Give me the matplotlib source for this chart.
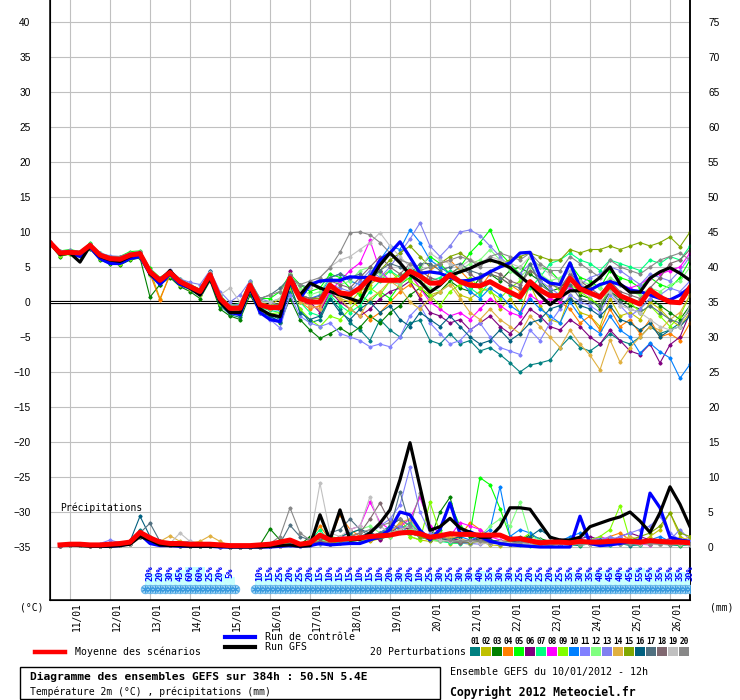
import numpy as np
import matplotlib
matplotlib.use('Agg')
import matplotlib.pyplot as plt

W, H = 740, 700

# x axis: 6-hourly steps from 10/01 12h (step 0) to 26/01 12h (step 64)
day_labels = ['11/01', '12/01', '13/01', '14/01', '15/01', '16/01', '17/01', '18/01',
              '19/01', '20/01', '21/01', '22/01', '23/01', '24/01', '25/01', '26/01']
day_steps = [2, 6, 10, 14, 18, 22, 26, 30, 34, 38, 42, 46, 50, 54, 58, 62]

# temperature 2m (deg C), steps 0..64
mean_t = [8.5, 7.0, 7.1, 7.0, 8.1, 6.7, 6.2, 6.1, 6.7, 6.9,
          4.3, 3.1, 4.2, 2.9, 2.2, 1.5, 3.9, 0.5, -0.9, -0.9,
          2.4, -0.4, -0.8, -0.8, 3.4, 0.5, 0.0, 0.0, 2.4, 1.3,
          1.1, 2.0, 3.5, 3.1, 3.1, 3.1, 4.4, 3.7, 2.7, 2.7,
          3.9, 2.9, 2.4, 2.3, 2.9, 2.1, 1.4, 0.7, 2.9, 1.7,
          0.9, 0.9, 3.4, 1.9, 1.3, 0.7, 2.4, 0.9, 0.3, -0.3,
          1.7, 0.7, 0.0, -0.1, 2.1]
gfs_t = [8.5, 6.8, 7.0, 5.7, 8.0, 6.5, 6.0, 5.8, 6.5, 7.0,
         4.0, 3.0, 4.5, 2.8, 2.0, 1.0, 3.5, 0.0, -1.5, -1.5,
         2.0, -1.0, -1.8, -2.1, 3.0, 1.0, 2.7, 2.0, 1.5, 1.0,
         0.5, 0.0, 3.0, 5.3, 7.0, 5.6, 3.9, 2.9, 1.4, 2.4,
         3.8, 4.3, 4.8, 5.5, 6.0, 5.6, 4.9, 3.7, 2.5, 1.0,
         -0.4, 0.7, 1.6, 1.6, 2.4, 3.5, 5.0, 2.6, 1.4, 1.4,
         3.4, 4.3, 4.9, 4.1, 3.1]
ctrl_t = [8.5, 7.0, 7.0, 6.5, 7.8, 6.2, 5.5, 5.5, 6.2, 6.5,
          4.0, 2.5, 4.0, 2.5, 2.0, 1.0, 3.5, 0.0, -1.5, -1.8,
          2.0, -1.5, -2.5, -2.8, 3.0, 0.5, 2.5, 3.0, 3.1, 3.1,
          3.6, 3.5, 3.5, 6.0, 7.0, 8.6, 6.4, 4.1, 4.3, 4.1,
          3.5, 3.0, 3.1, 3.5, 4.3, 5.0, 5.6, 7.0, 7.1, 3.6,
          2.7, 2.5, 5.6, 2.1, 1.7, 2.5, 2.9, 2.5, 1.7, 1.5,
          1.0, 0.5, 0.3, 1.0, 2.1]

t01 = [8.3, 6.8, 7.0, 6.8, 7.9, 6.3, 5.8, 5.5, 6.2, 6.5, 3.8, 2.5, 3.9, 2.4, 1.8, 1.0, 3.6, -0.5, -1.8, -2.2,
       2.0, -1.0, -1.8, -2.5, 1.5, -1.0, -3.0, -2.5, 0.5, -1.0, -3.0, -4.0, -5.5, -2.5, -4.0, -5.0, -3.0, -2.6, -5.5, -6.0,
       -4.5, -6.0, -5.5, -7.0, -6.5, -7.5, -8.7, -10.0, -9.0, -8.7, -8.3, -6.5, -5.0, -6.5, -7.0, -6.0, -4.5, -5.5, -6.0, -5.0,
       -3.5, -4.5, -4.0, -3.0, -1.0]
t02 = [8.5, 7.2, 7.3, 7.2, 8.3, 6.9, 6.0, 6.2, 6.9, 7.1, 4.5, 0.5, 3.8, 2.8, 2.0, 1.2, 3.5, 0.0, -1.0, -0.5,
       2.8, 0.0, -0.5, 0.5, 3.0, 1.5, -0.5, -1.0, 1.0, 0.5, 0.0, 1.5, 2.5, 3.5, 4.5, 3.0, 4.0, 2.0, 1.0, 1.5,
       3.0, 1.0, 0.5, 1.5, 2.0, -1.0, 0.5, -1.5, 2.5, -0.5, -2.5, -3.0, 1.0, -1.5, -2.0, -3.5, 0.5, -2.0, -1.5, -2.5,
       0.0, -1.0, -2.5, -3.5, -1.5]
t03 = [8.2, 6.5, 6.9, 6.6, 7.6, 6.0, 5.5, 5.3, 6.0, 6.3, 0.7, 2.5, 3.5, 2.2, 1.5, 0.5, 3.0, -1.0, -2.0, -2.5,
       1.0, -1.5, -2.0, -3.0, 0.5, -2.5, -4.0, -5.2, -4.5, -3.7, -4.6, -3.6, -2.0, -3.0, -1.5, -0.5, 1.0, 2.0, 0.5, 1.5,
       3.0, 2.0, 1.5, 3.5, 4.0, 3.0, 4.5, 5.0, 4.0, 3.0, 1.5, 2.0, 3.5, 1.0, 0.5, -1.0, 1.5, 0.5, -0.5, -1.0,
       0.5, -0.5, -1.5, -2.5, -0.5]
t04 = [8.4, 7.0, 7.2, 7.0, 8.0, 6.5, 6.0, 6.0, 6.5, 6.8, 4.0, 0.3, 4.0, 2.5, 2.0, 1.2, 3.5, 0.0, -1.0, -1.2,
       2.0, -0.5, -1.0, -1.0, 2.5, 0.0, -1.0, -0.5, 2.0, 1.5, 0.5, -1.0, -2.5, -1.5, 0.0, 1.5, 2.5, 1.0, 4.5, 5.5,
       6.0, 4.5, 3.0, 2.0, 4.0, 3.5, 2.5, 1.5, 3.0, 2.0, 0.5, 0.0, -1.0, -3.0, -2.0, -4.0, -1.0, -3.5, -2.5, -4.5,
       -2.5, -5.0, -4.5, -5.5, -3.0]
t05 = [8.6, 7.3, 7.5, 7.2, 8.4, 7.0, 6.5, 6.5, 7.2, 7.3, 4.8, 3.5, 4.5, 3.3, 2.5, 1.8, 4.2, 1.0, -0.5, -0.2,
       3.0, 0.5, 0.5, 1.5, 4.0, 2.5, 1.5, 2.0, 4.0, 3.5, 2.0, 1.0, 0.0, 1.5, 0.5, 2.5, 3.5, 5.0, 6.5, 5.5,
       4.0, 5.0, 7.0, 8.5, 10.3, 7.0, 5.5, 4.0, 6.5, 5.0, 4.5, 3.0, 5.5, 3.5, 3.0, 2.0, 4.5, 3.5, 3.0, 2.0,
       3.5, 2.5, 2.0, 3.5, 6.0]
t06 = [8.5, 7.0, 7.1, 7.0, 8.2, 6.8, 6.3, 6.1, 6.7, 6.9, 4.4, 3.0, 4.3, 2.8, 2.0, 1.3, 4.0, 0.3, -1.2, -1.0,
       2.5, -0.5, -1.0, -1.0, 4.5, 1.0, 0.0, -1.5, 1.5, 0.0, -1.0, -2.0, -1.0, 0.5, 1.5, 2.0, 3.0, 0.5, -1.5, -2.0,
       -3.0, -2.5, -4.0, -3.0, -2.0, -3.5, -4.5, -3.0, -1.0, -2.0, -3.5, -4.0, -2.5, -3.5, -5.0, -6.0, -4.0, -5.5, -7.0, -7.5,
       -6.0, -8.7, -6.1, -5.0, -1.5]
t07 = [8.4, 7.1, 7.2, 7.1, 8.0, 6.6, 6.0, 5.9, 6.5, 6.7, 4.1, 2.8, 4.0, 2.7, 2.0, 1.2, 3.7, 0.2, -1.2, -1.2,
       2.2, -0.8, -1.2, -1.5, 3.0, 0.0, -1.5, -2.0, 1.0, -0.5, -1.5, -0.5, 1.5, 3.0, 4.5, 3.5, 5.0, 4.0, 3.0, 3.5,
       4.5, 3.0, 2.0, 1.0, 3.0, 2.0, 1.0, 0.5, 2.0, 3.5, 5.5, 6.0, 7.0, 6.0, 5.5, 4.5, 6.0, 5.5, 5.0, 4.5,
       6.0, 5.5, 6.5, 6.0, 8.0]
t08 = [8.6, 7.2, 7.3, 7.1, 8.2, 6.9, 6.4, 6.3, 6.9, 7.1, 4.5, 3.3, 4.4, 3.0, 2.3, 1.6, 4.0, 0.6, -0.8, -0.8,
       2.5, -0.3, -0.5, -0.5, 3.0, 0.5, -0.5, -1.0, 1.5, 3.0, 4.5, 5.6, 8.8, 4.5, 3.0, 2.5, 4.0, 2.0, 0.0, -1.0,
       -2.0, -1.5, -2.5, -1.0, 0.5, -0.5, -1.5, -2.0, 1.0, 0.0, 0.5, 0.0, 2.0, 1.5, 1.0, 0.5, 3.0, 2.5, 2.0, 2.5,
       3.5, 4.0, 4.5, 5.0, 7.0]
t09 = [8.3, 6.6, 6.8, 6.7, 7.7, 6.2, 5.6, 5.5, 6.2, 6.5, 3.9, 2.7, 3.7, 2.5, 1.8, 1.0, 3.4, -0.3, -1.5, -1.7,
       1.8, -1.2, -1.7, -1.5, 2.0, -1.0, -2.5, -3.5, -2.0, -2.5, -1.0, 0.5, 2.0, 1.0, 3.0, 4.0, 3.0, 2.0, 1.0, -0.5,
       1.5, 2.5, 3.5, 2.0, 1.5, 0.5, 2.0, 3.0, 4.5, 3.5, 3.0, 1.5, 2.5, 1.5, 0.5, -0.5, 2.0, 1.0, 0.0, -1.5,
       -0.5, -2.0, -3.5, -2.0, 1.0]
t10 = [8.5, 7.0, 7.2, 6.9, 8.0, 6.6, 6.1, 6.0, 6.6, 6.8, 4.2, 3.0, 4.1, 2.8, 2.1, 1.4, 3.8, 0.4, -1.0, -1.0,
       2.3, -0.5, -1.0, -1.2, 3.5, 1.0, 0.5, 1.0, 3.5, 4.0, 3.0, 2.5, 4.0, 6.0, 8.0, 7.5, 10.3, 8.5, 6.0, 5.0,
       4.0, 3.0, 1.5, 0.5, 2.0, 1.0, -0.5, -1.5, 0.5, -1.0, -2.0, -3.0, 0.0, -2.0, -3.5, -4.5, -2.0, -4.0, -5.0, -7.3,
       -5.9, -7.1, -8.0, -10.9, -8.9]
t11 = [8.6, 7.1, 7.3, 7.0, 8.1, 6.8, 6.3, 6.2, 6.8, 7.0, 4.4, 3.2, 4.4, 3.1, 2.4, 1.7, 4.1, 0.7, -0.5, -0.3,
       2.6, -1.5, -2.5, -3.7, 1.0, -2.0, -3.0, -3.5, -3.0, -4.5, -5.0, -5.5, -6.4, -6.0, -6.4, -5.0, -2.0, -0.5, -3.0, -4.5,
       -6.0, -5.5, -4.0, -3.0, -5.0, -6.5, -7.0, -7.5, -4.0, -5.5, -3.0, -1.0, 1.0, 0.0, -0.5, -1.5, 1.0, -0.5, -2.0, -1.0,
       0.5, 1.0, 2.0, 1.5, 3.0]
t12 = [8.5, 7.0, 7.0, 7.0, 8.0, 6.7, 6.2, 6.1, 6.8, 7.0, 4.3, 3.1, 4.2, 2.9, 2.3, 1.6, 4.0, 0.8, -0.5, -0.5,
       2.8, 0.0, 0.0, 0.5, 4.0, 2.0, 1.0, 1.5, 3.5, 2.5, 3.0, 4.5, 5.0, 4.0, 3.0, 2.5, 4.0, 3.0, 2.0, 1.5,
       2.5, 4.5, 5.5, 6.0, 7.5, 6.0, 4.5, 3.5, 5.0, 4.0, 3.0, 3.5, 4.5, 3.0, 2.5, 2.0, 3.5, 2.5, 1.5, 1.0,
       2.0, 1.5, 2.5, 3.0, 5.0]
t13 = [8.4, 7.3, 7.4, 7.2, 8.3, 7.0, 6.6, 6.5, 7.0, 7.2, 4.6, 3.4, 4.6, 3.3, 2.8, 2.5, 4.5, 1.5, 0.0, 1.0,
       3.0, 0.5, 0.0, -0.5, 3.5, 1.0, 0.5, 0.0, 2.5, 2.0, 1.5, 3.0, 4.5, 3.5, 5.0, 7.0, 9.0, 11.3, 8.0, 6.5,
       8.0, 10.0, 10.3, 9.5, 8.0, 6.5, 5.0, 4.0, 5.5, 3.0, 2.0, 1.0, 4.0, 2.5, 3.5, 4.0, 5.0, 4.5, 3.5, 2.5,
       4.0, 3.5, 3.0, 4.5, 6.5]
t14 = [8.4, 6.9, 7.0, 6.9, 7.9, 6.5, 6.0, 5.9, 6.5, 6.8, 4.0, 2.8, 4.0, 2.6, 1.9, 1.2, 3.6, 0.2, -1.2, -1.0,
       2.2, -0.6, -1.0, -1.0, 3.0, 0.0, -0.5, -1.0, 2.0, 0.5, -1.0, -2.0, 0.5, 1.5, 3.0, 2.0, 0.0, -1.0, 0.5, 1.5,
       2.5, 0.5, -1.5, -2.5, -1.0, -2.5, -3.5, -4.5, -2.0, -3.5, -5.0, -6.5, -4.0, -6.0, -7.6, -9.7, -5.4, -8.6, -6.5, -5.0,
       -3.5, -4.0, -2.5, -1.5, 1.0]
t15 = [8.5, 7.1, 7.2, 7.0, 8.1, 6.7, 6.2, 6.2, 6.8, 7.0, 4.4, 3.2, 4.3, 3.0, 2.3, 1.6, 4.0, 0.6, -0.7, -0.7,
       2.5, -0.2, -0.5, -0.2, 3.5, 1.0, 0.5, 0.5, 2.5, 1.5, 1.0, 2.0, 3.5, 4.5, 6.0, 7.0, 8.0, 6.5, 5.0, 5.5,
       6.5, 7.0, 6.0, 5.5, 6.0, 5.5, 6.0, 6.5, 7.0, 6.5, 6.0, 6.0, 7.5, 7.0, 7.5, 7.5, 8.0, 7.5, 8.0, 8.5,
       8.0, 8.5, 9.3, 7.9, 10.0]
t16 = [8.4, 6.9, 7.0, 6.8, 8.0, 6.5, 6.0, 5.8, 6.5, 6.7, 4.1, 2.9, 4.0, 2.7, 2.0, 1.3, 4.4, 0.0, -1.5, -1.8,
       2.2, -1.0, -2.0, -2.8, 2.5, -1.5, -2.5, -2.0, 0.5, -1.5, -2.5, -1.0, 0.0, -1.5, -0.5, -2.5, -3.5, -1.5, -2.5, -3.5,
       -2.0, -3.5, -5.0, -6.0, -5.5, -4.0, -5.5, -4.5, -3.0, -2.5, -1.0, -0.5, 0.5, -0.5, -1.0, -2.0, -0.5, -2.5, -3.0, -4.0,
       -3.0, -5.0, -4.0, -3.5, -2.0]
t17 = [8.5, 7.0, 7.1, 7.0, 8.1, 6.7, 6.2, 6.1, 6.7, 6.9, 4.3, 3.1, 4.2, 2.9, 2.2, 1.5, 4.0, 0.5, -0.9, -0.9,
       2.4, 0.5, 1.0, 2.0, 3.5, 2.5, 2.0, 3.0, 3.5, 4.0, 3.5, 4.0, 3.0, 4.5, 5.5, 5.0, 4.0, 5.5, 5.5, 4.5,
       5.0, 5.5, 4.5, 4.0, 4.0, 3.5, 2.5, 2.0, 5.5, 2.5, 1.5, 0.5, 2.5, 0.5, 0.0, -0.5, 1.5, 0.0, -1.0, -1.5,
       -0.5, -1.5, -2.5, -3.0, -1.0]
t18 = [8.6, 7.1, 7.2, 7.1, 8.1, 6.7, 6.3, 6.2, 6.7, 6.9, 4.3, 3.0, 4.3, 2.9, 2.1, 1.4, 3.9, 0.4, -1.0, -1.0,
       2.4, -0.3, -0.6, -0.3, 3.8, 1.0, 0.5, 0.8, 3.0, 2.5, 2.0, 3.5, 5.0, 6.5, 5.0, 4.0, 5.5, 4.5, 3.5, 3.0,
       4.0, 5.0, 4.0, 3.0, 4.5, 4.0, 3.0, 2.5, 4.5, 3.5, 2.5, 2.0, 4.0, 3.0, 2.0, 1.0, 3.0, 1.5, 1.0, 0.5,
       2.0, 3.5, 5.5, 6.0, 7.5]
t19 = [8.5, 7.1, 7.2, 7.1, 8.2, 6.8, 6.3, 6.3, 6.9, 7.1, 4.5, 3.3, 4.4, 3.1, 2.4, 1.8, 4.3, 1.0, 2.0, 0.0,
       2.5, 0.0, 0.0, 0.5, 3.0, 1.5, 2.0, 3.5, 5.0, 6.0, 6.5, 7.5, 8.5, 9.9, 8.0, 6.5, 5.0, 4.5, 7.0, 6.0,
       5.5, 5.0, 6.0, 5.5, 6.5, 6.0, 5.5, 5.0, 6.5, 5.0, 4.0, 3.0, 4.5, 3.0, 1.0, 0.5, 1.5, -0.5, -1.0, -1.5,
       -2.5, -3.5, -4.0, -3.5, -0.5]
t20 = [8.6, 7.2, 7.3, 7.2, 8.3, 6.9, 6.5, 6.5, 7.0, 7.2, 4.6, 3.4, 4.5, 3.2, 2.5, 1.8, 4.2, 0.8, -0.6, -0.5,
       2.7, 0.5, 1.0, 1.5, 3.5, 2.5, 3.0, 3.5, 4.9, 7.1, 9.9, 10.0, 9.6, 8.5, 7.0, 6.0, 5.5, 4.5, 5.0, 5.5,
       6.0, 6.5, 6.0, 5.0, 6.5, 7.0, 6.5, 6.0, 7.0, 5.5, 4.5, 4.5, 6.5, 5.5, 4.5, 3.5, 6.0, 5.0, 4.5, 4.0,
       5.0, 6.0, 6.5, 7.0, 6.0]

# precipitation (mm per 6h), steps 1..64
mean_p = [0.3, 0.4, 0.4, 0.3, 0.3, 0.4, 0.5, 0.7, 2.1, 1.3,
          0.7, 0.5, 0.5, 0.4, 0.4, 0.4, 0.3, 0.2, 0.2, 0.2,
          0.3, 0.4, 0.7, 1.0, 0.4, 0.6, 1.7, 1.0, 1.1, 1.2,
          1.3, 1.5, 1.6, 1.7, 2.0, 2.1, 1.9, 1.4, 1.6, 1.9,
          1.8, 1.8, 1.7, 1.7, 1.7, 1.1, 1.2, 0.9, 0.6, 0.7,
          0.7, 0.6, 0.8, 0.7, 0.7, 0.8, 0.9, 0.8, 0.7, 0.9,
          0.8, 0.7, 0.7, 0.6]
gfs_p = [0.2, 0.3, 0.2, 0.1, 0.1, 0.1, 0.2, 0.4, 1.5, 1.0,
         0.3, 0.2, 0.2, 0.1, 0.1, 0.1, 0.1, 0.0, 0.0, 0.0,
         0.0, 0.1, 0.2, 0.3, 0.1, 0.2, 4.6, 1.0, 5.3, 1.0,
         1.1, 2.0, 3.4, 5.3, 9.6, 14.9, 8.6, 2.4, 2.9, 4.1,
         2.7, 2.1, 1.4, 1.4, 2.9, 5.6, 5.6, 5.4, 3.4, 1.4,
         1.0, 1.0, 1.4, 2.9, 3.4, 3.9, 4.3, 5.0, 3.7, 2.1,
         4.9, 8.6, 6.1, 2.9]
ctrl_p = [0.2, 0.3, 0.3, 0.2, 0.1, 0.1, 0.2, 0.5, 1.8, 0.5,
          0.2, 0.2, 0.1, 0.1, 0.1, 0.1, 0.0, 0.0, 0.0, 0.0,
          0.0, 0.0, 0.1, 0.2, 0.1, 0.2, 0.5, 0.3, 0.4, 0.5,
          0.5, 1.0, 1.5, 2.5, 5.0, 4.6, 2.4, 1.0, 2.5, 6.3,
          1.9, 2.2, 1.5, 0.8, 0.5, 0.3, 0.2, 0.1, 0.0, 0.0,
          0.0, 0.0, 4.4, 0.5, 0.2, 0.3, 0.5, 0.8, 1.0, 7.7,
          5.6, 1.4, 1.0, 0.8]

p01 = [0.3, 0.4, 0.3, 0.2, 0.2, 0.3, 0.4, 0.6, 2.5, 1.0, 0.5, 0.3, 0.3, 0.2, 0.2, 0.1, 0.1, 0.0, 0.0, 0.0,
       0.0, 0.1, 0.3, 0.5, 0.2, 0.3, 0.8, 0.5, 0.7, 1.0, 1.5, 2.0, 1.5, 2.5, 3.0, 2.0, 1.5, 1.0, 2.0, 1.5,
       1.0, 0.8, 1.2, 0.6, 0.5, 0.8, 1.5, 1.0, 0.5, 0.3, 0.5, 0.3, 0.2, 0.5, 0.4, 0.3, 0.5, 0.2, 0.3, 0.5,
       0.4, 0.3, 0.2, 0.3]
p02 = [0.2, 0.3, 0.4, 0.3, 0.2, 0.2, 0.3, 0.5, 1.5, 0.8, 0.4, 0.3, 0.2, 0.1, 0.1, 0.1, 0.0, 0.0, 0.0, 0.0,
       0.1, 0.2, 0.3, 0.6, 0.3, 0.4, 1.2, 0.8, 1.5, 2.0, 1.0, 0.8, 1.2, 2.0, 3.5, 1.5, 1.0, 0.8, 1.2, 0.5,
       0.6, 0.4, 0.8, 0.3, 0.2, 0.3, 0.5, 0.4, 0.3, 0.2, 0.5, 0.3, 0.6, 1.0, 0.8, 0.5, 0.8, 1.2, 0.6, 1.5,
       2.5, 4.9, 1.5, 0.8]
p03 = [0.3, 0.3, 0.4, 0.3, 0.2, 0.2, 0.3, 0.6, 1.8, 1.0, 0.5, 0.3, 0.3, 0.2, 0.1, 0.1, 0.1, 0.0, 0.0, 0.1,
       0.3, 2.6, 1.0, 0.5, 0.3, 1.5, 0.8, 0.6, 1.0, 1.2, 1.5, 1.0, 1.2, 1.5, 2.5, 2.0, 1.5, 1.0, 5.0, 7.1,
       2.0, 1.5, 1.0, 0.8, 0.6, 0.5, 1.0, 1.7, 1.2, 0.8, 0.5, 0.4, 0.6, 0.8, 1.0, 1.2, 0.8, 0.6, 0.5, 0.4,
       0.6, 0.5, 0.3, 0.5]
p04 = [0.2, 0.3, 0.3, 0.2, 0.2, 0.3, 0.5, 0.8, 2.2, 1.2, 0.6, 0.4, 0.3, 0.2, 0.2, 0.1, 0.1, 0.0, 0.0, 0.0,
       0.1, 0.2, 0.5, 0.8, 0.4, 1.0, 3.0, 1.0, 4.6, 2.5, 1.5, 1.0, 2.0, 3.0, 4.0, 2.0, 1.5, 1.0, 0.8, 1.2,
       1.5, 3.5, 2.5, 1.0, 0.8, 0.5, 0.6, 1.0, 0.5, 0.4, 0.3, 0.5, 0.8, 0.5, 0.6, 1.5, 2.0, 1.0, 0.8, 0.5,
       0.4, 0.6, 1.0, 0.8]
p05 = [0.3, 0.4, 0.4, 0.3, 0.2, 0.3, 0.4, 0.7, 2.0, 1.5, 0.6, 0.4, 0.3, 0.3, 0.2, 0.2, 0.1, 0.0, 0.0, 0.0,
       0.0, 0.1, 0.2, 0.3, 0.2, 0.5, 1.0, 1.5, 1.2, 0.8, 1.0, 1.5, 2.0, 2.5, 3.0, 2.5, 2.0, 1.5, 2.5, 6.3,
       3.0, 2.0, 9.9, 8.9, 5.5, 1.5, 1.0, 0.8, 0.5, 0.3, 0.4, 0.5, 0.3, 0.6, 0.5, 0.4, 0.6, 0.5, 0.8, 0.6,
       0.5, 0.4, 0.6, 0.5]
p06 = [0.2, 0.3, 0.3, 0.2, 0.2, 0.2, 0.3, 0.5, 1.6, 0.9, 0.5, 0.3, 0.2, 0.2, 0.1, 0.1, 0.0, 0.0, 0.0, 0.0,
       0.0, 0.1, 0.2, 0.4, 0.3, 0.5, 0.7, 0.5, 0.8, 1.0, 1.2, 1.5, 1.0, 2.0, 3.0, 2.5, 1.5, 1.0, 1.5, 1.2,
       1.0, 0.8, 1.5, 1.0, 0.6, 0.8, 1.0, 0.7, 0.5, 0.6, 0.8, 1.0, 1.2, 1.5, 1.0, 0.8, 1.5, 2.0, 1.5, 1.0,
       0.8, 1.2, 0.6, 0.8]
p07 = [0.3, 0.3, 0.4, 0.3, 0.2, 0.2, 0.4, 0.6, 1.4, 0.8, 0.4, 0.3, 0.2, 0.2, 0.1, 0.1, 0.1, 0.0, 0.0, 0.0,
       0.1, 0.2, 0.3, 0.5, 0.4, 0.8, 2.5, 0.6, 0.8, 1.0, 1.5, 2.0, 1.5, 2.0, 2.5, 3.5, 2.0, 1.2, 0.8, 0.6,
       0.5, 0.6, 0.8, 1.0, 0.5, 0.4, 0.3, 0.2, 0.3, 0.5, 0.4, 0.3, 0.4, 0.5, 0.6, 0.3, 0.5, 0.4, 0.3, 0.6,
       0.5, 0.4, 0.3, 0.4]
p08 = [0.2, 0.3, 0.3, 0.2, 0.2, 0.3, 0.4, 0.6, 1.7, 1.1, 0.5, 0.3, 0.3, 0.2, 0.1, 0.1, 0.1, 0.0, 0.0, 0.0,
       0.0, 0.1, 0.2, 0.4, 0.2, 0.3, 0.8, 0.5, 1.0, 2.5, 3.0, 6.4, 3.5, 2.5, 3.0, 4.0, 7.1, 3.0, 2.0, 1.5,
       3.5, 3.0, 2.5, 1.5, 1.0, 0.8, 0.6, 0.5, 0.4, 0.3, 0.5, 0.6, 0.4, 0.8, 1.5, 1.0, 0.6, 0.5, 0.4, 0.3,
       0.5, 0.4, 0.6, 0.5]
p09 = [0.3, 0.4, 0.3, 0.3, 0.2, 0.2, 0.3, 0.5, 1.9, 1.2, 0.5, 0.4, 0.3, 0.2, 0.2, 0.1, 0.1, 0.0, 0.0, 0.0,
       0.1, 0.2, 0.4, 0.6, 0.3, 0.4, 0.6, 0.4, 0.6, 0.8, 1.0, 1.2, 1.5, 2.0, 2.5, 1.5, 1.0, 6.4, 2.0, 1.0,
       0.8, 0.5, 1.0, 0.8, 0.5, 0.6, 1.0, 2.0, 1.0, 0.5, 0.4, 0.3, 0.5, 1.0, 1.5, 2.5, 5.9, 1.0, 0.6, 0.5,
       0.4, 0.5, 0.3, 0.4]
p10 = [0.2, 0.3, 0.3, 0.2, 0.2, 0.2, 0.3, 0.5, 1.5, 0.8, 0.4, 0.3, 0.2, 0.2, 0.1, 0.1, 0.0, 0.0, 0.0, 0.0,
       0.0, 0.1, 0.2, 0.3, 0.2, 0.3, 0.5, 0.4, 0.6, 0.8, 1.0, 1.5, 2.0, 3.0, 2.5, 2.0, 1.5, 1.0, 1.5, 2.0,
       1.5, 1.0, 1.5, 2.5, 8.6, 1.5, 2.5, 2.0, 1.0, 0.5, 0.8, 1.5, 2.0, 1.0, 0.5, 0.4, 0.6, 0.5, 0.8, 1.0,
       1.5, 0.8, 0.5, 0.4]
p11 = [0.3, 0.4, 0.4, 0.3, 0.5, 1.0, 0.6, 0.7, 1.8, 1.0, 0.8, 0.6, 0.7, 0.8, 0.5, 0.3, 0.1, 0.0, 0.0, 0.0,
       0.0, 0.1, 0.2, 0.3, 0.2, 0.3, 0.6, 0.5, 0.8, 1.0, 1.5, 2.0, 3.0, 4.0, 6.0, 11.4, 5.0, 2.0, 1.5, 1.0,
       0.8, 0.6, 1.0, 0.8, 0.5, 0.4, 0.6, 0.5, 0.3, 0.4, 0.5, 0.6, 0.8, 1.0, 1.2, 1.0, 1.5, 2.0, 2.5, 3.0,
       4.4, 2.0, 1.0, 0.8]
p12 = [0.3, 0.3, 0.4, 0.3, 0.2, 0.3, 0.4, 0.6, 1.6, 1.0, 0.5, 0.4, 0.3, 0.2, 0.2, 0.1, 0.1, 0.0, 0.0, 0.0,
       0.1, 0.2, 0.3, 0.5, 0.3, 0.6, 1.0, 0.8, 1.5, 2.0, 2.5, 3.0, 2.0, 1.5, 2.0, 2.5, 1.5, 1.0, 0.8, 1.0,
       1.5, 2.0, 1.5, 3.0, 4.0, 3.0, 6.4, 1.5, 1.0, 0.5, 0.4, 0.6, 0.5, 0.4, 0.8, 0.6, 0.5, 0.7, 0.6, 0.5,
       0.8, 0.6, 0.5, 0.6]
p13 = [0.3, 0.3, 0.3, 0.3, 0.2, 0.2, 0.3, 0.5, 1.4, 0.8, 0.4, 0.3, 0.2, 0.2, 0.1, 0.1, 0.0, 0.0, 0.0, 0.0,
       0.0, 0.1, 0.2, 0.3, 0.2, 0.4, 0.5, 0.6, 0.8, 1.0, 1.2, 1.5, 2.0, 2.5, 3.0, 2.0, 1.5, 1.2, 1.0, 0.8,
       0.6, 0.5, 0.4, 0.6, 0.5, 0.4, 0.5, 0.6, 0.8, 0.5, 0.6, 0.5, 0.4, 0.5, 1.0, 1.5, 1.0, 0.8, 0.6, 0.5,
       0.8, 1.0, 2.5, 1.0]
p14 = [0.3, 0.3, 0.4, 0.3, 0.2, 0.2, 0.3, 0.6, 2.0, 1.2, 0.8, 1.6, 0.8, 0.6, 0.8, 1.6, 0.8, 0.2, 0.0, 0.0,
       0.0, 0.1, 0.2, 0.4, 0.3, 0.5, 0.8, 0.6, 1.0, 1.5, 1.5, 1.0, 1.5, 2.0, 3.5, 4.0, 2.0, 1.5, 1.0, 1.5,
       1.2, 0.8, 0.6, 0.5, 0.8, 1.0, 0.6, 0.5, 0.4, 0.3, 0.5, 0.4, 0.6, 0.5, 0.8, 0.6, 1.0, 1.5, 1.0, 0.8,
       0.6, 0.5, 0.8, 1.5]
p15 = [0.2, 0.3, 0.3, 0.2, 0.2, 0.2, 0.3, 0.5, 1.5, 0.9, 0.4, 0.3, 0.2, 0.2, 0.1, 0.1, 0.1, 0.0, 0.0, 0.0,
       0.0, 0.1, 0.3, 0.4, 0.3, 0.4, 0.6, 0.5, 0.8, 1.0, 1.2, 1.5, 1.8, 2.0, 2.5, 2.0, 1.5, 1.0, 1.2, 1.0,
       0.8, 0.6, 0.8, 0.5, 0.6, 0.8, 0.6, 0.5, 0.4, 0.3, 0.4, 0.5, 0.6, 0.8, 0.6, 0.5, 0.8, 1.0, 1.5, 2.0,
       3.0, 4.9, 2.0, 1.5]
p16 = [0.3, 0.4, 0.4, 0.3, 0.2, 0.3, 0.4, 0.8, 4.4, 1.5, 0.6, 0.4, 0.3, 0.2, 0.2, 0.1, 0.1, 0.0, 0.0, 0.0,
       0.1, 0.2, 0.5, 1.0, 0.5, 0.8, 1.5, 1.0, 1.5, 2.0, 2.5, 2.0, 1.5, 3.0, 4.0, 3.0, 2.0, 1.5, 1.2, 1.0,
       1.5, 2.0, 1.5, 1.0, 0.8, 0.6, 1.0, 1.5, 2.5, 1.5, 1.0, 0.8, 0.6, 0.8, 1.0, 0.6, 0.5, 0.4, 0.6, 0.5,
       0.4, 0.6, 0.5, 0.4]
p17 = [0.3, 0.3, 0.4, 0.3, 0.2, 0.3, 0.4, 0.7, 2.0, 3.4, 0.8, 0.4, 0.3, 0.2, 0.2, 0.1, 0.1, 0.0, 0.0, 0.0,
       0.1, 0.2, 0.5, 3.1, 1.5, 1.0, 1.2, 2.0, 2.5, 4.0, 2.5, 1.5, 2.0, 2.5, 7.9, 3.0, 2.0, 1.5, 1.0, 0.8,
       0.6, 0.8, 1.0, 0.8, 0.6, 0.5, 0.8, 1.0, 0.6, 0.5, 0.4, 0.6, 0.5, 0.8, 0.6, 0.5, 0.6, 0.8, 1.0, 0.6,
       0.5, 0.4, 0.6, 0.5]
p18 = [0.2, 0.3, 0.3, 0.2, 0.2, 0.2, 0.3, 0.5, 1.5, 1.0, 0.5, 0.3, 0.2, 0.2, 0.1, 0.1, 0.0, 0.0, 0.0, 0.0,
       0.0, 0.1, 0.2, 0.4, 0.3, 0.5, 0.8, 0.6, 1.0, 1.5, 2.0, 4.0, 6.3, 3.5, 2.5, 3.0, 2.0, 1.5, 1.0, 0.8,
       0.6, 0.8, 1.0, 0.6, 0.5, 0.4, 0.6, 0.5, 0.8, 0.6, 0.5, 0.4, 0.6, 0.5, 0.4, 0.6, 0.8, 0.6, 0.5, 0.4,
       0.6, 0.5, 0.4, 0.5]
p19 = [0.3, 0.4, 0.3, 0.3, 0.2, 0.2, 0.3, 0.5, 1.6, 1.0, 0.6, 0.5, 2.0, 0.8, 0.5, 0.3, 0.1, 0.0, 0.0, 0.0,
       0.0, 0.1, 0.2, 0.5, 0.3, 1.0, 9.1, 2.0, 1.5, 2.5, 3.0, 7.2, 3.0, 2.0, 2.5, 3.0, 2.0, 1.5, 1.0, 0.8,
       1.0, 0.8, 0.6, 0.5, 0.8, 0.6, 0.5, 0.4, 0.6, 0.5, 0.4, 0.3, 0.5, 0.4, 0.6, 0.5, 0.4, 0.6, 0.5, 0.4,
       0.3, 0.5, 0.4, 0.3]
p20 = [0.3, 0.3, 0.4, 0.3, 0.2, 0.3, 0.4, 0.6, 2.0, 1.5, 0.5, 0.3, 0.3, 0.2, 0.1, 0.1, 0.1, 0.0, 0.0, 0.0,
       0.1, 0.5, 1.5, 5.6, 2.0, 1.0, 1.5, 1.0, 1.2, 1.5, 2.0, 2.5, 3.0, 3.5, 4.0, 3.0, 7.7, 2.5, 1.5, 1.0,
       0.8, 1.0, 0.8, 0.6, 0.5, 0.4, 0.6, 0.8, 0.5, 0.4, 0.6, 0.5, 0.4, 0.6, 0.8, 0.6, 0.5, 0.4, 0.6, 0.5,
       0.4, 0.5, 0.6, 0.4]

pert_colors = ['#008080', '#c0c000', '#008000', '#ff8000', '#00ff00', '#800080', '#00ff80',
               '#ff00ff', '#80ff00', '#0080ff', '#8080ff', '#80ff80', '#8080f0', '#e0b040',
               '#80a800', '#006080', '#507080', '#806870', '#c0c0c0', '#888888']

# probability of precipitation (%), shown per 6h step
prob_steps_a = list(range(10, 19))
prob_a = [20, 20, 30, 45, 60, 60, 25, 20, 5]
prob_steps_b = list(range(21, 65))
prob_b = [10, 15, 25, 20, 25, 20, 15, 10, 15, 15,
          10, 15, 10, 20, 30, 20, 10, 25, 30, 25,
          30, 30, 40, 35, 30, 30, 25, 20, 25, 20,
          25, 35, 30, 35, 40, 45, 40, 45, 55, 45,
          35, 35, 35, 30]

pert_t = [t01, t02, t03, t04, t05, t06, t07, t08, t09, t10,
          t11, t12, t13, t14, t15, t16, t17, t18, t19, t20]
pert_p = [p01, p02, p03, p04, p05, p06, p07, p08, p09, p10,
          p11, p12, p13, p14, p15, p16, p17, p18, p19, p20]


def fx(px):
    return px / W


def fy(py):
    return 1 - py / H


mono = 'DejaVu Sans Mono'
fig = plt.figure(figsize=(W / 100, H / 100), dpi=100)
fig.patch.set_facecolor('white')

ax = fig.add_axes([fx(50), fy(600), 640 / W, 600 / H])
ax.set_xlim(0, 64)
ax.set_ylim(-35 - 53 / 7, 40 + 22 / 7)
ax.set_yticks(range(-35, 41, 5))
ax.set_xticks(day_steps)
ax.set_xticklabels([])
ax.grid(True, color='#c0c0c0', lw=0.8)
ax.set_axisbelow(True)
ax.tick_params(axis='y', length=0, pad=14, labelsize=7.3)
ax.tick_params(axis='x', length=0)
for lab in ax.get_yticklabels():
    lab.set_family('Liberation Sans')
ax.spines['top'].set_visible(False)
for s in ['left', 'right', 'bottom']:
    ax.spines[s].set_linewidth(1.1)

# double zero line
ax.axhline(0, color='black', lw=2.3, zorder=2)
ax.axhline(0, color='white', lw=0.7, zorder=2)

steps_t = np.arange(len(mean_t))
for series, col in zip(pert_t, pert_colors):
    ax.plot(steps_t, series, color=col, lw=0.8, marker='D', ms=1.6, zorder=3)
ax.plot(steps_t, ctrl_t, color='#0000ff', lw=2.3, zorder=4)
ax.plot(steps_t, gfs_t, color='black', lw=2.3, zorder=4)
ax.plot(steps_t, mean_t, color='#ff0000', lw=3.6, zorder=5)

# precipitation on right axis (0 mm level with -35 deg C)
axp = ax.twinx()
axp.set_ylim(-53 / 7, 75 + 22 / 7)
axp.set_yticks(range(0, 76, 5))
axp.tick_params(axis='y', length=0, pad=13, labelsize=7.3)
for lab in axp.get_yticklabels():
    lab.set_family('Liberation Sans')
axp.spines['top'].set_visible(False)
axp.spines['right'].set_linewidth(1.1)
steps_p = np.arange(1, len(mean_p) + 1)
for series, col in zip(pert_p, pert_colors):
    axp.plot(steps_p, series, color=col, lw=0.8, marker='D', ms=1.6, zorder=3)
axp.plot(steps_p, ctrl_p, color='#0000ff', lw=2.3, zorder=4)
axp.plot(steps_p, gfs_p, color='black', lw=2.3, zorder=4)
axp.plot(steps_p, mean_p, color='#ff0000', lw=3.6, zorder=5)

# probability strip at the bottom of the plot (units: pixels above axis bottom)
axs = fig.add_axes([fx(50), fy(600), 640 / W, 40 / H])
axs.set_xlim(0, 64)
axs.set_ylim(0, 40)
axs.axis('off')
for steps, probs in [(prob_steps_a, prob_a), (prob_steps_b, prob_b)]:
    tops = [22 + 0.18 * p for p in probs]
    axs.bar(steps, [t - 8 for t in tops], bottom=8, width=1.0, color='#c8ffff', lw=0)
    flake_x = np.arange(steps[0] - 0.5, steps[-1] + 0.51, 0.5)
    axs.scatter(flake_x, np.full(len(flake_x), 11), s=38, marker='o',
                color='#9fd4f4', edgecolors='#5aaee6', linewidths=0.6, zorder=3)
    axs.scatter(flake_x, np.full(len(flake_x), 11), s=22, marker=(6, 2, 0),
                color='#3c9ce0', linewidths=0.7, zorder=4)
    for s, p in zip(steps, probs):
        axs.text(s, 27, '%d%%' % p, rotation=90, ha='center', va='center',
                 fontsize=6.3, family=mono, fontweight='bold', color='#0000ff', zorder=5)

# date labels
for s, lab in zip(day_steps, day_labels):
    fig.text(fx(50 + 10 * s + 7), fy(602), lab, rotation=90, ha='center', va='top',
             fontsize=6.9, family=mono)
fig.text(fx(20), fy(607), '(°C)', ha='left', va='center', fontsize=7, family=mono)
fig.text(fx(710), fy(607), '(mm)', ha='left', va='center', fontsize=7, family=mono)
fig.text(fx(60), fy(508), 'Précipitations', ha='left', va='center', fontsize=7, family=mono)

# legend
fig.add_artist(plt.Line2D([fx(35), fx(65)], [fy(652), fy(652)], color='#ff0000', lw=3.2))
fig.text(fx(75), fy(652), 'Moyenne des scénarios', ha='left', va='center', fontsize=7.1, family=mono)
fig.add_artist(plt.Line2D([fx(225), fx(255)], [fy(637), fy(637)], color='#0000ff', lw=3.0))
fig.text(fx(265), fy(637), 'Run de contrôle', ha='left', va='center', fontsize=7.1, family=mono)
fig.add_artist(plt.Line2D([fx(225), fx(255)], [fy(647), fy(647)], color='black', lw=3.0))
fig.text(fx(265), fy(647), 'Run GFS', ha='left', va='center', fontsize=7.1, family=mono)
fig.text(fx(370), fy(652), '20 Perturbations', ha='left', va='center', fontsize=7.1, family=mono)
for k, col in enumerate(pert_colors):
    x0 = 470 + 11 * k
    fig.add_artist(plt.Rectangle((fx(x0), fy(656)), 10 / W, 9 / H, color=col, lw=0))
    fig.text(fx(x0 + 5), fy(642), '%02d' % (k + 1), ha='center', va='center',
             fontsize=5.6, family=mono, fontweight='bold')

# title box
fig.add_artist(plt.Rectangle((fx(20), fy(699)), 420 / W, 32 / H, fill=False,
                             edgecolor='black', lw=1.0))
fig.text(fx(30), fy(677), 'Diagramme des ensembles GEFS sur 384h : 50.5N 5.4E',
         ha='left', va='center', fontsize=8.1, family=mono, fontweight='bold')
fig.text(fx(30), fy(692), 'Température 2m (°C) , précipitations (mm)',
         ha='left', va='center', fontsize=7, family=mono)
fig.text(fx(450), fy(672), 'Ensemble GEFS du 10/01/2012 - 12h',
         ha='left', va='center', fontsize=7.2, family=mono)
fig.text(fx(450), fy(692), 'Copyright 2012 Meteociel.fr',
         ha='left', va='center', fontsize=8.3, family=mono, fontweight='bold')

fig.savefig('out.png', dpi=100)
